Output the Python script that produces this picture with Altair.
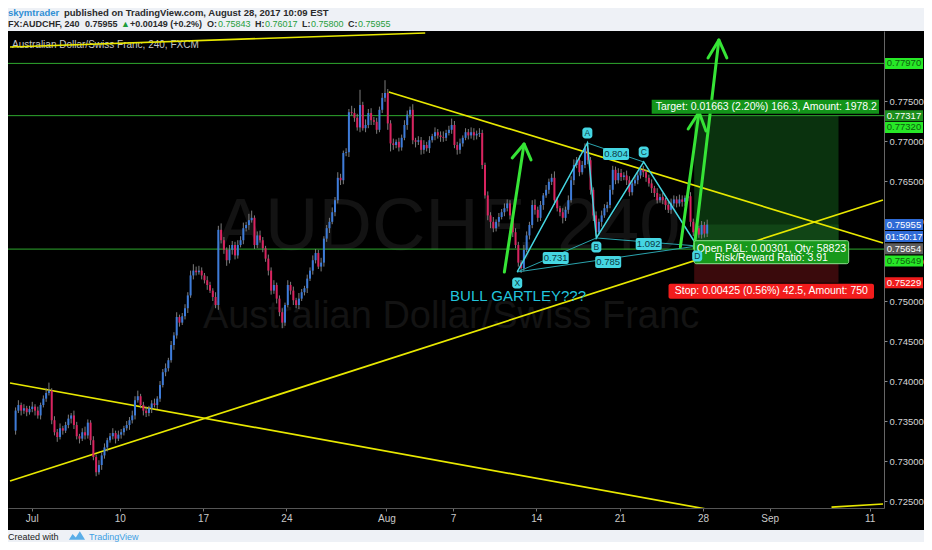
import altair as alt
import pandas as pd
import numpy as np

# ---------------- data ----------------
first_open = 0.7338
closes = [
    0.7363, 0.7370, 0.7363, 0.7366, 0.7361, 0.7365, 0.7368, 0.7363,
    0.7357, 0.7370, 0.7378, 0.7385, 0.7388, 0.7351, 0.7336, 0.7330, 0.7341, 0.7338,
    0.7345, 0.7353, 0.7357, 0.7345, 0.7331, 0.7328, 0.7336, 0.7332, 0.7348, 0.7326,
    0.7305, 0.7286, 0.7295, 0.7307, 0.7317, 0.7326, 0.7331, 0.7335, 0.7328, 0.7333,
    0.7336, 0.7341, 0.7345, 0.7351, 0.7357, 0.7376, 0.7381, 0.7370, 0.7363, 0.7360,
    0.7366, 0.7372, 0.7370, 0.7378, 0.7395, 0.7411, 0.7416, 0.7426, 0.7445, 0.7457,
    0.7480, 0.7473, 0.7481, 0.7491, 0.7507, 0.7532, 0.7538, 0.7536, 0.7538, 0.7532,
    0.7526, 0.7520, 0.7513, 0.7505, 0.7495, 0.7589, 0.7576, 0.7564, 0.7551, 0.7564,
    0.7570, 0.7557, 0.7570, 0.7576, 0.7591, 0.7595, 0.7601, 0.7604, 0.7570, 0.7582,
    0.7576, 0.7566, 0.7553, 0.7538, 0.7513, 0.7520, 0.7503, 0.7486, 0.7473, 0.7495,
    0.7520, 0.7513, 0.7501, 0.7495, 0.7503, 0.7511, 0.7516, 0.7528, 0.7538, 0.7551,
    0.7560, 0.7543, 0.7548, 0.7578, 0.7591, 0.7599, 0.7611, 0.7626, 0.7654, 0.7651,
    0.7685, 0.7686, 0.7736, 0.7735, 0.7729, 0.7717, 0.7745, 0.7716, 0.7720, 0.7735,
    0.7726, 0.7724, 0.7714, 0.7739, 0.7754, 0.7760, 0.7722, 0.7697, 0.7695, 0.7699,
    0.7692, 0.7704, 0.7720, 0.7733, 0.7739, 0.7701, 0.7699, 0.7701, 0.7689, 0.7695,
    0.7691, 0.7701, 0.7706, 0.7711, 0.7707, 0.7705, 0.7704, 0.7710, 0.7714, 0.7720,
    0.7695, 0.7689, 0.7697, 0.7704, 0.7711, 0.7707, 0.7711, 0.7707, 0.7709, 0.7710,
    0.7670, 0.7632, 0.7607, 0.7599, 0.7591, 0.7599, 0.7605, 0.7611, 0.7616, 0.7622,
    0.7607, 0.7586, 0.7570, 0.7548, 0.7541, 0.7564, 0.7582, 0.7595, 0.7620, 0.7614,
    0.7604, 0.7620, 0.7632, 0.7639, 0.7649, 0.7654, 0.7626, 0.7616, 0.7611, 0.7604,
    0.7614, 0.7626, 0.7651, 0.7670, 0.7676, 0.7661, 0.7670, 0.7691, 0.7676, 0.7639,
    0.7607, 0.7586, 0.7599, 0.7607, 0.7616, 0.7620, 0.7639, 0.7664, 0.7651, 0.7660,
    0.7655, 0.7657, 0.7651, 0.7636, 0.7647, 0.7651, 0.7657, 0.7664, 0.7661, 0.7654,
    0.7647, 0.7641, 0.7635, 0.7626, 0.7630, 0.7626, 0.7620, 0.7614, 0.7622, 0.7627,
    0.7622, 0.7627, 0.7624, 0.7629, 0.7631, 0.7599, 0.7586, 0.7591, 0.7583, 0.7595,
    0.75843, 0.75955,
]
# upper / lower wick lengths in pips (0.0001)
wick_up = [
    4, 6, 3, 5, 3, 4, 6, 3,
    5, 3, 4, 6, 10, 3, 5, 4, 6, 3,
    4, 5, 3, 6, 4, 3, 5, 7, 4, 3,
    5, 3, 6, 4, 5, 3, 4, 6, 3, 5,
    4, 3, 5, 4, 6, 5, 7, 3, 4, 5,
    3, 4, 6, 3, 5, 4, 6, 3, 5, 4,
    6, 3, 4, 5, 4, 6, 8, 5, 6, 4,
    3, 5, 4, 3, 6, 5, 8, 4, 3, 6,
    5, 4, 6, 5, 7, 4, 8, 9, 3, 5,
    6, 4, 3, 5, 4, 6, 3, 4, 5, 3,
    6, 4, 5, 3, 7, 4, 3, 5, 4, 6,
    5, 4, 6, 3, 4, 5, 6, 4, 7, 5,
    3, 5, 4, 8, 6, 5, 19, 4, 7, 5,
    6, 4, 5, 4, 6, 16, 5, 4, 6, 3,
    5, 4, 6, 5, 4, 7, 3, 5, 4, 6,
    4, 5, 3, 6, 4, 5, 7, 4, 5, 8,
    5, 4, 6, 3, 5, 4, 6, 5, 4, 6,
    4, 3, 5, 4, 6, 3, 5, 4, 6, 5,
    4, 3, 5, 4, 3, 6, 5, 4, 6, 7,
    4, 5, 3, 6, 4, 5, 8, 4, 3, 5,
    4, 6, 5, 7, 4, 6, 5, 6, 8, 4,
    3, 5, 4, 6, 5, 4, 6, 5, 4, 6,
    5, 4, 6, 5, 4, 6, 5, 4, 5, 3,
    4, 5, 3, 6, 4, 5, 3, 4, 6, 5,
    4, 6, 5, 3, 9, 5, 4, 6, 3, 5,
    4, 6.2,
]
wick_dn = [
    5, 3, 6, 4, 5, 3, 4, 6,
    4, 5, 3, 4, 3, 5, 4, 6, 3, 5,
    3, 4, 6, 5, 4, 6, 3, 5, 4, 6,
    4, 5, 3, 6, 4, 5, 3, 4, 6, 3,
    5, 4, 3, 6, 4, 5, 3, 4, 6, 5,
    4, 6, 3, 5, 4, 3, 5, 4, 3, 6,
    4, 5, 3, 4, 6, 3, 5, 4, 3, 5,
    4, 6, 3, 5, 4, 6, 4, 5, 7, 4,
    6, 5, 4, 3, 5, 4, 6, 3, 5, 4,
    3, 5, 4, 6, 5, 4, 6, 5, 7, 4,
    3, 5, 6, 4, 5, 3, 4, 6, 3, 5,
    4, 3, 6, 5, 4, 6, 3, 5, 4, 6,
    5, 4, 6, 3, 5, 4, 6, 3, 5, 4,
    6, 4, 5, 3, 4, 5, 8, 10, 6, 4,
    5, 4, 3, 6, 4, 5, 7, 4, 6, 5,
    4, 6, 3, 5, 4, 6, 5, 4, 3, 5,
    4, 6, 5, 4, 3, 5, 4, 6, 5, 4,
    5, 4, 6, 8, 5, 4, 6, 3, 5, 4,
    5, 6, 4, 5, 6, 4, 3, 5, 4, 6,
    5, 4, 6, 3, 5, 4, 6, 4, 5, 7,
    4, 5, 3, 6, 4, 5, 3, 4, 5, 6,
    7, 5, 4, 6, 3, 5, 4, 6, 5, 4,
    5, 4, 6, 5, 4, 3, 5, 4, 6, 5,
    4, 6, 5, 4, 3, 5, 6, 4, 5, 4,
    5, 4, 6, 5, 4, 6, 5, 8, 4, 5,
    5, 4.3,
]
first_bar = -8          # bars before Mon Jul 3
bars_per_day = 6        # 4-hour bars

x_tick_pos = [-0.28, 5, 10, 15, 21, 25, 30, 35, 40, 44, 50]
x_tick_lbl = ["Jul", "10", "17", "24", "Aug", "7", "14", "21", "28", "Sep", "11"]
y_ticks = [0.725, 0.730, 0.735, 0.740, 0.745, 0.750, 0.755, 0.760, 0.765, 0.770, 0.775]
x_domain = [-1.406, 50.56]
y_domain = [0.72413, 0.78375]

# drawing tools (trading-day position, price)
yellow_id = ["a", "a", "b", "b", "c", "c", "d", "d", "e", "e"]
yellow_d = [-1.584, 23.33, 21.14, 50.80, -1.584, 50.80, -1.584, 50.80, 47.71, 50.80]
yellow_p = [0.78175, 0.78350, 0.77613, 0.75725, 0.72750, 0.76263, 0.73975, 0.72000, 0.72425, 0.72463]

hlines = [0.77970, 0.77317, 0.75649]

pat_names = ["X", "A", "B", "C", "D"]
pat_d = [28.85, 33.06, 33.60, 36.44, 39.65]
pat_p = [0.75363, 0.76975, 0.75788, 0.76738, 0.75688]
pat_lbl_p = [0.75225, 0.77100, 0.75675, 0.76863, 0.75563]
ratio_pairs = [("X", "B"), ("A", "C"), ("B", "D"), ("X", "D")]
ratio_txt = ["0.731", "0.804", "1.092", "0.785"]
ratio_d = [31.16, 34.78, 36.74, 34.31]
ratio_p = [0.75538, 0.76838, 0.75713, 0.75488]

arrow_id = ["1"] * 5 + ["2"] * 5 + ["3"] * 5
arrow_part = ["s", "s", "h", "h", "h"] * 3
arrow_d = [28.08, 29.26, 28.55, 29.26, 29.68,
           38.64, 39.76, 39.11, 39.76, 40.18,
           39.47, 40.95, 40.30, 40.95, 41.43]
arrow_p = [0.75362, 0.76963, 0.76788, 0.76963, 0.76763,
           0.75675, 0.77363, 0.77150, 0.77363, 0.77125,
           0.75663, 0.78263, 0.78038, 0.78263, 0.78038]

pos_d0, pos_d1 = 39.47, 48.13
entry, target, stop, last = 0.75654, 0.77317, 0.75229, 0.75955

badge_p = [0.77970, 0.77317, 0.77320, 0.75955, 0.75955, 0.75654, 0.75649, 0.75229]
badge_t = ["0.77970", "0.77317", "0.77320", "0.75955", "01:50:17", "0.75654", "0.75649", "0.75229"]
badge_bg = ["#27e827", "#1d8f1d", "#27e827", "#2f6bd6", "#2f6bd6", "#5c5c5c", "#27e827", "#f01c1c"]
badge_fg = ["#0d5f0d", "#ffffff", "#0d5f0d", "#ffffff", "#ffffff", "#ffffff", "#0d5f0d", "#ffffff"]
badge_shift = [0, 0, 1, 0, 1, 0, 1, 0]

FONT = "Liberation Sans"

# ---------------- tables ----------------
n = len(closes)
opens = [first_open] + closes[:-1]
idx = np.arange(first_bar, first_bar + n)
t = (idx + 0.5) / bars_per_day
highs = [max(o, c) + u * 1e-4 for o, c, u in zip(opens, closes, wick_up)]
lows = [min(o, c) - d * 1e-4 for o, c, d in zip(opens, closes, wick_dn)]
col = ["#3d7bd9" if c >= o else "#d9235f" for o, c in zip(opens, closes)]
candles = pd.DataFrame({"t": t, "o": opens, "c": closes, "h": highs, "l": lows, "col": col})

yellow = pd.DataFrame({"id": yellow_id, "d": yellow_d, "p": yellow_p, "k": range(len(yellow_id))})
hl = pd.DataFrame({"p": hlines})
pat = pd.DataFrame({"n": pat_names, "d": pat_d, "p": pat_p, "lp": pat_lbl_p, "k": range(5)})
pmap = dict(zip(pat_names, zip(pat_d, pat_p)))
rl = []
for j, (a, b) in enumerate(ratio_pairs):
    rl.append({"id": j, "d": pmap[a][0], "p": pmap[a][1], "k": 0})
    rl.append({"id": j, "d": pmap[b][0], "p": pmap[b][1], "k": 1})
ratio_lines = pd.DataFrame(rl)
ratios = pd.DataFrame({"txt": ratio_txt, "d": ratio_d, "p": ratio_p})
arrows = pd.DataFrame({"id": [a + pt for a, pt in zip(arrow_id, arrow_part)],
                       "d": arrow_d, "p": arrow_p, "k": range(len(arrow_d))})
zones = pd.DataFrame({
    "d0": [pos_d0] * 3, "d1": [pos_d1] * 3,
    "p0": [entry, entry, stop], "p1": [target, last, entry],
    "fill": ["#0a320e", "#114516", "#3a0a0c"],
})
badges = pd.DataFrame({"p": badge_p, "t": badge_t, "bg": badge_bg, "fg": badge_fg, "s": badge_shift})

# ---------------- scales / axes ----------------
lbl_expr = "".join(f"abs(datum.value - ({v})) < 0.01 ? '{l}' : " for v, l in zip(x_tick_pos, x_tick_lbl)) + "''"
x_axis = alt.Axis(values=x_tick_pos, labelExpr=lbl_expr, title=None, grid=False,
                  labelColor="#c9c9c9", labelFontSize=10, labelFont=FONT, tickSize=3,
                  tickColor="#777777", domainColor="#555555", labelPadding=2, zindex=0)
y_axis = alt.Axis(orient="right", values=y_ticks, format=".5f", title=None, grid=False,
                  labelColor="#d6d6d6", labelFontSize=9.5, labelFont=FONT, tickSize=3,
                  tickColor="#888888", domainColor="#666666", labelPadding=2, zindex=0)
xs = alt.Scale(domain=x_domain, nice=False, zero=False)
ys = alt.Scale(domain=y_domain, nice=False, zero=False)


def X(f):
    return alt.X(f, type="quantitative", scale=xs, axis=x_axis)


def Y(f):
    return alt.Y(f, type="quantitative", scale=ys, axis=y_axis)


one = pd.DataFrame({"a": [0]})
W, H = 876, 477
TOTAL_W = 916
BG = "#eef1f6"
layers = []

# light header / footer bands
for (x0, x1, y0, y1) in [(0, TOTAL_W, -23, 0), (0, TOTAL_W, 499, 511)]:
    layers.append(alt.Chart(one).mark_rect(color=BG).encode(
        x=alt.value(x0), x2=alt.value(x1), y=alt.value(y0), y2=alt.value(y1)))

# watermark
layers.append(alt.Chart(one).mark_text(text="AUDCHF, 240", font=FONT, fontSize=74, color="#131313",
                                       align="center", baseline="middle").encode(
    x=alt.value(440), y=alt.value(197)))
layers.append(alt.Chart(one).mark_text(text="Australian Dollar/Swiss Franc", font=FONT, fontSize=38,
                                       color="#131313", align="center", baseline="middle").encode(
    x=alt.value(443), y=alt.value(286)))
layers.append(alt.Chart(one).mark_text(text="Australian Dollar/Swiss Franc, 240, FXCM", font=FONT,
                                       fontSize=10, color="#c4c4c4", align="left", baseline="middle").encode(
    x=alt.value(4), y=alt.value(14)))

# position zones
layers.append(alt.Chart(zones).mark_rect().encode(
    x=X("d0"), x2="d1", y=Y("p0"), y2="p1", color=alt.Color("fill:N", scale=None, legend=None)))

# horizontal green lines
layers.append(alt.Chart(hl).mark_rule(color="#2ea82e", strokeWidth=1).encode(y=Y("p")))

# yellow trend lines
layers.append(alt.Chart(yellow).mark_line(color="#e8e800", strokeWidth=1.7, clip=True).encode(
    x=X("d"), y=Y("p"), detail="id:N", order="k:Q"))

# candles
layers.append(alt.Chart(candles).mark_rule(color="#7c7c7c", strokeWidth=1).encode(
    x=X("t"), y=Y("l"), y2="h"))
layers.append(alt.Chart(candles).mark_bar(size=2, strokeWidth=0).encode(
    x=X("t"), y=Y("o"), y2="c", color=alt.Color("col:N", scale=None, legend=None)))

# harmonic pattern
layers.append(alt.Chart(ratio_lines).mark_line(color="#2aa3ad", strokeWidth=1).encode(
    x=X("d"), y=Y("p"), detail="id:N", order="k:Q"))
layers.append(alt.Chart(pat).mark_line(color="#45d6e2", strokeWidth=1.5).encode(
    x=X("d"), y=Y("p"), order="k:Q"))

# green arrows
layers.append(alt.Chart(arrows).mark_line(color="#36e436", strokeWidth=3, strokeCap="round",
                                          strokeJoin="round").encode(
    x=X("d"), y=Y("p"), detail="id:N", order="k:Q"))

# position labels
tgt = pd.DataFrame({"d0": [36.92], "d1": [x_domain[1]], "p": [target],
                    "txt": ["Target: 0.01663 (2.20%) 166.3, Amount: 1978.2"]})
layers.append(alt.Chart(tgt).mark_rect(color="#13941a", yOffset=-16, y2Offset=-2, clip=True).encode(
    x=X("d0"), x2="d1", y=Y("p"), y2="p"))
layers.append(alt.Chart(tgt).mark_text(color="#ffffff", font=FONT, fontSize=10.5, align="left",
                                       baseline="middle", dx=4, dy=-9, clip=True).encode(
    x=X("d0"), y=Y("p"), text="txt:N"))
opl = pd.DataFrame({"d0": [39.47], "d1": [48.74], "dc": [44.1], "p": [entry]})
layers.append(alt.Chart(opl).mark_rect(color="#17991b", stroke="#8ee08e", strokeWidth=1,
                                       cornerRadius=2, yOffset=-8, y2Offset=15).encode(
    x=X("d0"), x2="d1", y=Y("p"), y2="p"))
layers.append(alt.Chart(opl).mark_text(text="Open P&L: 0.00301, Qty: 58823", color="#ffffff", font=FONT,
                                       fontSize=10.5, align="center", baseline="middle", dy=0).encode(
    x=X("dc"), y=Y("p")))
layers.append(alt.Chart(opl).mark_text(text="Risk/Reward Ratio: 3.91", color="#ffffff", font=FONT,
                                       fontSize=10.5, align="center", baseline="middle", dy=9).encode(
    x=X("dc"), y=Y("p")))
stp = pd.DataFrame({"d0": [37.93], "d1": [50.26], "dc": [44.1], "p": [stop]})
layers.append(alt.Chart(stp).mark_rect(color="#f21c1c", cornerRadius=2, yOffset=1, y2Offset=16).encode(
    x=X("d0"), x2="d1", y=Y("p"), y2="p"))
layers.append(alt.Chart(stp).mark_text(text="Stop: 0.00425 (0.56%) 42.5, Amount: 750", color="#ffffff",
                                       font=FONT, fontSize=10.5, align="center", baseline="middle",
                                       dy=8.5).encode(x=X("dc"), y=Y("p")))

# pattern labels
CY = "#45d6e2"
layers.append(alt.Chart(ratios).mark_rect(color=CY, cornerRadius=2, xOffset=-13, x2Offset=13,
                                          yOffset=-6, y2Offset=6).encode(
    x=X("d"), x2="d", y=Y("p"), y2="p"))
layers.append(alt.Chart(ratios).mark_text(color="#0c3a44", font=FONT, fontSize=9.5, align="center",
                                          baseline="middle").encode(x=X("d"), y=Y("p"), text="txt:N"))
layers.append(alt.Chart(pat).mark_rect(color=CY, cornerRadius=3, xOffset=-5, x2Offset=5,
                                       yOffset=-5.5, y2Offset=5.5).encode(
    x=X("d"), x2="d", y=Y("lp"), y2="lp"))
layers.append(alt.Chart(pat).mark_text(color="#0c3a44", font=FONT, fontSize=8.5, align="center",
                                       baseline="middle").encode(x=X("d"), y=Y("lp"), text="n:N"))
bull = pd.DataFrame({"d": [28.9], "p": [0.75063], "txt": ["BULL GARTLEY???"]})
layers.append(alt.Chart(bull).mark_text(color="#22c4dc", font=FONT, fontSize=15, align="center",
                                        baseline="middle").encode(x=X("d"), y=Y("p"), text="txt:N"))

# price badges on the right axis
for s, off in [(0, 0), (1, 12)]:
    sub = badges[badges["s"] == s]
    layers.append(alt.Chart(sub).mark_rect(yOffset=-5.5 + off, y2Offset=5.5 + off).encode(
        x=alt.value(W + 1), x2=alt.value(W + 39), y=Y("p"), y2="p",
        color=alt.Color("bg:N", scale=None, legend=None)))
    layers.append(alt.Chart(sub).mark_text(font=FONT, fontSize=9.5, align="center", baseline="middle",
                                           dy=off).encode(
        x=alt.value(W + 20), y=Y("p"), text="t:N", color=alt.Color("fg:N", scale=None, legend=None)))

# header texts
DARK = "#2a2a2a"
GRN = "#1f9d3c"
head = [
    (5, -15, "skymtrader", "#2f8fd5", "bold", 9.5),
    (61, -15, "published on TradingView.com, August 28, 2017 10:09 EST", DARK, "bold", 9.5),
    (5, -4, "FX:AUDCHF, 240", DARK, "bold", 9),
    (82, -4, "0.75955", DARK, "bold", 9),
    (118, -4, "\u25b2", GRN, "normal", 9),
    (127, -4, "+0.00149 (+0.2%)", DARK, "bold", 9),
    (204, -4, "O:", DARK, "bold", 9), (215, -4, "0.75843", GRN, "normal", 9),
    (252, -4, "H:", DARK, "bold", 9), (262, -4, "0.76017", GRN, "normal", 9),
    (299, -4, "L:", DARK, "bold", 9), (308, -4, "0.75800", GRN, "normal", 9),
    (345, -4, "C:", DARK, "bold", 9), (355, -4, "0.75955", GRN, "normal", 9),
]
for (px, py, txt, c, w, fs) in head:
    layers.append(alt.Chart(one).mark_text(text=txt, font=FONT, fontSize=fs, fontWeight=w, color=c,
                                           align="left", baseline="alphabetic").encode(
        x=alt.value(px - 5), y=alt.value(py)))

# footer
layers.append(alt.Chart(one).mark_text(text="Created with", font=FONT, fontSize=9, color="#222222",
                                       align="left", baseline="middle").encode(
    x=alt.value(0), y=alt.value(506)))
layers.append(alt.Chart(one).mark_point(
    shape="M -1 0.45 L -0.55 -0.25 L -0.15 0.2 L 0.35 -0.6 L 1 0.45 Z",
    filled=True, color="#5aaee8", size=260, opacity=1).encode(x=alt.value(69), y=alt.value(505)))
layers.append(alt.Chart(one).mark_text(text="TradingView", font=FONT, fontSize=9, color="#3d9fe3",
                                       align="left", baseline="middle").encode(
    x=alt.value(81), y=alt.value(506)))

chart = alt.layer(*layers).properties(
    width=W, height=H,
    autosize=alt.AutoSizeParams(type="none"),
    padding={"left": 0, "top": 23, "right": TOTAL_W - W, "bottom": 34},
    background="#000000",
).configure_view(stroke=None).resolve_scale(color="independent")

chart.save("out.html", embed_options={"renderer": "svg", "actions": False})
